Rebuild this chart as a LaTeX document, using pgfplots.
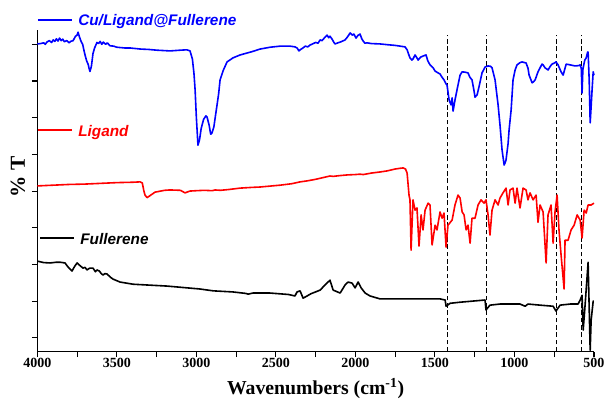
\documentclass[border=0pt]{standalone}
\usepackage{fontspec}
\setmainfont{Liberation Serif}
\newfontfamily\arialfont{Liberation Sans}
\usepackage{pgfplots}
\pgfplotsset{compat=1.18}
\begin{document}
\begin{tikzpicture}
\begin{axis}[
 scale only axis, width=417.5pt, height=241.3pt,
 xmin=500, xmax=4000, x dir=reverse,
 ymin=-0.38, ymax=8.39,
 axis lines*=left,
 axis line style={line width=0.8pt, black},
 xtick={500,1000,...,4000}, minor xtick={750,1250,...,3750},
 ytick={0,...,8}, yticklabels={},
 tick align=outside, major tick length=4pt, minor tick length=4pt,
 tick style={black, line width=0.8pt},
 /pgf/number format/assume math mode=true,
 /pgf/number format/1000 sep={},
 xticklabel style={font=\bfseries\fontsize{10.5}{12}\selectfont, anchor=base, yshift=-7.8pt},
 xlabel={Wavenumbers (cm\textsuperscript{-1})},
 xlabel style={font=\bfseries\fontsize{14.8}{17}\selectfont, at={(axis description cs:0.5,0)}, anchor=base, yshift=-32.3pt},
 ylabel={\% T},
 ylabel style={font=\bfseries\fontsize{16}{19}\selectfont, at={(axis description cs:-0.0347,0.543)}, anchor=center},
 clip=false,
 every axis plot/.append style={line join=round},
]
\coordinate (bl) at (rel axis cs:0,0);
\coordinate (tr) at (rel axis cs:1,1);
% dashed guide lines
\addplot[black, line width=0.7pt, dash pattern=on 3.5pt off 2pt] coordinates {(1424,-0.38) (1424,8.25)};
\addplot[black, line width=0.7pt, dash pattern=on 3.5pt off 2pt] coordinates {(1179,-0.38) (1179,8.25)};
\addplot[black, line width=0.7pt, dash pattern=on 3.5pt off 2pt] coordinates {(739,-0.38) (739,8.25)};
\addplot[black, line width=0.7pt, dash pattern=on 3.5pt off 2pt] coordinates {(576,-0.38) (576,8.25)};
% Fullerene
\addplot[black, line width=1.2pt] coordinates {
(4000,2.09) (3960,2.05) (3920,2.04) (3880,2.06) (3857,2.06) (3826,2.04) (3805,1.92) (3782,1.82)
(3765,1.95) (3750,2.04) (3735,1.98) (3713,1.90) (3700,1.92) (3688,1.85) (3670,1.90) (3650,1.90)
(3635,1.80) (3625,1.85) (3610,1.82) (3600,1.76) (3587,1.71) (3575,1.75) (3562,1.74) (3540,1.65)
(3524,1.60) (3480,1.52) (3398,1.46) (3185,1.41) (2977,1.33) (2895,1.28) (2770,1.25) (2690,1.21)
(2675,1.19) (2644,1.22) (2537,1.22) (2420,1.18) (2380,1.14) (2367,1.25) (2348,1.28) (2329,1.08)
(2304,1.14) (2280,1.20) (2222,1.30) (2191,1.44) (2160,1.57) (2140,1.30) (2096,1.22) (2065,1.44)
(2046,1.52) (2021,1.49) (2002,1.36) (1983,1.52) (1964,1.36) (1939,1.22) (1908,1.14) (1845,1.06)
(1719,1.06) (1468,1.06) (1436,1.03) (1430,0.86) (1405,0.94) (1342,0.97) (1185,1.03) (1179,0.76)
(1154,0.89) (1091,0.92) (965,0.92) (933,0.86) (915,0.92) (839,0.89) (757,0.86) (739,0.73)
(713,0.89) (650,0.92) (600,0.92) (587,1.03) (575,1.16) (568,0.21) (556,0.89) (537,2.06)
(524,-0.34) (518,0.48) (505,1.00) (500,1.00)};
% Ligand
\addplot[red, line width=1.2pt] coordinates {
(4000,4.14) (3900,4.16) (3800,4.18) (3700,4.19) (3600,4.21) (3500,4.23) (3400,4.24) (3354,4.25)
(3340,4.22) (3330,4.00) (3323,3.89) (3310,3.82) (3290,3.88) (3260,3.97) (3200,4.02) (3166,4.03)
(3100,4.02) (3071,3.95) (3060,3.97) (3040,4.00) (3000,4.01) (2950,4.02) (2900,4.01) (2883,4.03)
(2850,4.02) (2800,4.04) (2725,4.08) (2650,4.10) (2600,4.11) (2474,4.16) (2400,4.20) (2348,4.25)
(2300,4.28) (2250,4.32) (2160,4.41) (2140,4.40) (2100,4.42) (2050,4.44) (2000,4.45) (1971,4.46)
(1950,4.45) (1900,4.49) (1845,4.52) (1800,4.55) (1751,4.60) (1720,4.62) (1700,4.63) (1685,4.60)
(1675,4.49) (1663,3.89) (1657,3.76) (1650,2.39) (1638,3.76) (1625,3.48) (1613,3.54) (1600,2.50)
(1587,3.35) (1575,2.94) (1562,3.48) (1543,3.67) (1531,3.62) (1518,2.53) (1499,3.07) (1487,2.94)
(1468,3.43) (1455,3.26) (1443,3.40) (1430,2.47) (1418,3.07) (1392,3.21) (1374,3.62) (1355,3.89)
(1342,3.81) (1329,3.43) (1317,3.35) (1304,2.94) (1292,3.07) (1279,2.58) (1267,3.26) (1248,3.26)
(1229,3.62) (1210,3.76) (1191,3.67) (1179,3.76) (1166,3.35) (1154,2.80) (1141,3.48) (1122,3.76)
(1103,3.62) (1091,3.81) (1072,3.95) (1053,4.08) (1040,3.62) (1028,4.03) (1009,4.08) (996,3.67)
(984,4.08) (965,3.54) (946,4.08) (927,4.03) (915,3.76) (902,3.95) (883,3.76) (864,3.89)
(852,3.15) (839,3.62) (820,3.43) (801,2.04) (789,3.35) (770,3.62) (757,2.58) (745,3.43)
(732,3.89) (720,2.94) (707,2.26) (688,1.33) (682,2.66) (663,2.66) (644,2.94) (625,3.07)
(606,3.35) (587,3.21) (575,2.72) (562,3.48) (549,3.40) (537,3.62) (518,3.62) (500,3.67)};
% Cu/Ligand@Fullerene
\addplot[blue, line width=1.2pt] coordinates {
(4000,8.01) (3980,8.02) (3960,8.04) (3950,8.00) (3940,8.06) (3925,8.10) (3910,8.05) (3900,8.12)
(3890,8.08) (3880,8.15) (3870,8.09) (3860,8.17) (3850,8.10) (3840,8.14) (3830,8.07) (3815,8.10)
(3800,8.04) (3790,8.08) (3775,8.10) (3760,8.22) (3750,8.25) (3744,8.33) (3735,8.20) (3725,8.08)
(3715,8.00) (3705,7.80) (3700,7.71) (3690,7.55) (3680,7.45) (3675,7.35) (3669,7.26) (3660,7.40)
(3650,7.75) (3640,7.90) (3630,8.00) (3625,8.05) (3615,8.02) (3605,8.08) (3595,8.00) (3585,8.06)
(3570,8.00) (3560,8.04) (3543,7.96) (3520,7.95) (3500,7.92) (3450,7.90) (3417,7.90) (3350,7.87)
(3300,7.86) (3250,7.84) (3166,7.82) (3100,7.84) (3060,7.85) (3040,7.82) (3025,7.60) (3015,7.20)
(3008,6.76) (3000,6.00) (2990,5.25) (2980,5.40) (2970,5.70) (2955,5.95) (2940,6.05) (2933,6.02)
(2920,5.80) (2910,5.55) (2902,5.58) (2890,5.75) (2875,6.20) (2860,6.65) (2851,7.03) (2830,7.30)
(2807,7.52) (2770,7.63) (2725,7.71) (2650,7.80) (2600,7.87) (2537,7.92) (2474,7.95) (2411,7.95)
(2380,7.93) (2367,7.90) (2355,7.82) (2348,7.85) (2330,7.90) (2315,7.95) (2300,7.93) (2285,7.98)
(2265,8.02) (2250,8.05) (2235,8.03) (2222,8.12) (2210,8.10) (2200,8.15) (2190,8.20) (2178,8.25)
(2168,8.18) (2160,8.22) (2148,8.15) (2135,8.05) (2128,8.01) (2110,8.04) (2096,8.06) (2080,8.09)
(2065,8.12) (2050,8.20) (2033,8.31) (2020,8.25) (2010,8.28) (1996,8.17) (1985,8.24) (1971,8.28)
(1960,8.15) (1950,8.08) (1940,8.03) (1927,8.04) (1900,8.02) (1845,8.01) (1800,7.99) (1750,7.97)
(1719,7.95) (1688,7.93) (1675,7.85) (1663,7.70) (1657,7.63) (1645,7.57) (1638,7.60) (1625,7.71)
(1612,7.62) (1606,7.57) (1590,7.65) (1575,7.68) (1556,7.71) (1545,7.55) (1531,7.44) (1510,7.35)
(1499,7.27) (1480,7.22) (1468,7.19) (1455,7.10) (1443,7.03) (1430,6.92) (1424,6.89) (1411,6.48)
(1399,6.35) (1392,6.54) (1386,6.18) (1374,6.48) (1355,6.89) (1342,7.16) (1329,7.25) (1310,7.24)
(1292,7.22) (1280,7.10) (1267,7.03) (1255,6.75) (1248,6.56) (1235,6.62) (1223,6.84) (1204,7.22)
(1185,7.38) (1166,7.41) (1150,7.40) (1141,7.36) (1122,7.03) (1103,6.35) (1091,5.80) (1078,5.12)
(1065,4.71) (1058,4.78) (1053,4.85) (1040,5.30) (1034,5.66) (1021,6.21) (1009,7.03) (996,7.30)
(984,7.44) (965,7.50) (952,7.52) (927,7.49) (915,7.35) (908,7.16) (889,6.95) (880,6.98)
(870,7.03) (852,7.25) (827,7.46) (820,7.44) (808,7.36) (789,7.30) (775,7.40) (764,7.46)
(745,7.50) (739,7.52) (726,7.44) (707,7.25) (694,7.16) (675,7.46) (650,7.44) (619,7.41)
(595,7.42) (587,7.44) (580,7.35) (575,6.67) (570,7.30) (568,7.36) (558,7.57) (549,7.63)
(540,7.79) (537,7.79) (530,7.00) (524,5.86) (518,6.30) (512,6.76) (505,7.25) (500,7.16)};
% legend-like labels
\addplot[blue, line width=1.2pt] coordinates {(3996,8.66) (3782,8.66)};
\addplot[red, line width=1.2pt] coordinates {(3996,5.66) (3782,5.66)};
\addplot[black, line width=1.2pt] coordinates {(3983,2.72) (3769,2.72)};
\node[anchor=base west, inner sep=0pt, text=blue, font=\arialfont\bfseries\itshape\fontsize{11.5}{13}\selectfont] at (axis cs:3744,8.50) {Cu/Ligand@Fullerene};
\node[anchor=base west, inner sep=0pt, text=red, font=\arialfont\bfseries\itshape\fontsize{11.5}{13}\selectfont] at (axis cs:3744,5.50) {Ligand};
\node[anchor=base west, inner sep=0pt, text=black, font=\arialfont\bfseries\itshape\fontsize{11.5}{13}\selectfont] at (axis cs:3731,2.55) {Fullerene};
\end{axis}
\pgfresetboundingbox
\path[use as bounding box] ([shift={(-28pt,-34.7pt)}]bl) rectangle ([shift={(7.5pt,22.5pt)}]tr);
\end{tikzpicture}
\end{document}
